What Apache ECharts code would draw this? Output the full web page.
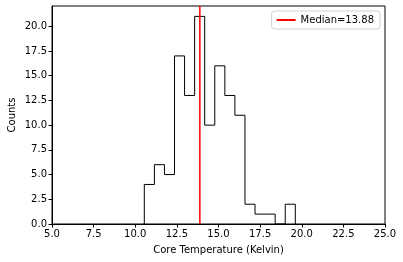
<!DOCTYPE html>
<html><head><meta charset="utf-8">
<script src="https://cdn.jsdelivr.net/npm/echarts@6/dist/echarts.min.js"></script>
<style>html,body{margin:0;padding:0;background:#fff}#c{width:403px;height:262px}</style>
</head><body><div id="c"></div>
<script>
const binEdges = [10.544,11.149,11.753,12.358,12.962,13.567,14.171,14.776,15.381,15.985,16.590,17.194,17.799,18.403,19.008,19.613];
const counts = [4,6,5,17,13,21,10,16,13,11,2,1,1,0,2];
const median = 13.88;
const xTicks = [5,7.5,10,12.5,15,17.5,20,22.5,25];
const yTicks = [0,2.5,5,7.5,10,12.5,15,17.5,20];

const stepPts = [[binEdges[0],0]];
for (let i=0;i<counts.length;i++){ stepPts.push([binEdges[i],counts[i]]); stepPts.push([binEdges[i+1],counts[i]]); }
stepPts.push([binEdges[binEdges.length-1],0]);

const yMax = Math.max(...counts)*1.05;
const font = 'DejaVu Sans';
const chart = echarts.init(document.getElementById('c'), null, {renderer:'canvas'});
chart.setOption({
  animation:false,
  textStyle:{fontFamily:font},
  grid:{left:52,right:18,top:6,bottom:38,show:true,borderColor:'#000',borderWidth:1,backgroundColor:'transparent',containLabel:false,outerBoundsMode:'none'},
  legend:{
    right:23,top:11,orient:'vertical',
    data:[{name:'Median=13.88',icon:'rect'}],
    itemWidth:19,itemHeight:2,itemGap:4,
    borderColor:'#d0d0d0',borderWidth:1,borderRadius:3,padding:[4,6,4,5],
    backgroundColor:'#fff',
    textStyle:{fontFamily:font,fontSize:10,color:'#000'}
  },
  xAxis:{type:'value',min:5,max:25,interval:2.5,
    name:'Core Temperature (Kelvin)',nameLocation:'middle',nameGap:21,nameMoveOverlap:false,
    nameTextStyle:{fontFamily:font,fontSize:10,color:'#000'},
    axisLine:{show:true,onZero:false,lineStyle:{color:'#000',width:1}},
    axisTick:{show:true,length:3.5,lineStyle:{color:'#000'},customValues:xTicks},
    axisLabel:{fontFamily:font,fontSize:10,color:'#000',margin:5,customValues:xTicks,formatter:v=>v.toFixed(1)},
    splitLine:{show:false}},
  yAxis:{type:'value',min:0,max:yMax,
    name:'Counts',nameLocation:'middle',nameGap:35,nameRotate:90,nameMoveOverlap:false,
    nameTextStyle:{fontFamily:font,fontSize:10,color:'#000'},
    axisLine:{show:true,lineStyle:{color:'#000',width:1}},
    axisTick:{show:true,length:3.5,lineStyle:{color:'#000'},customValues:yTicks},
    axisLabel:{fontFamily:font,fontSize:10,color:'#000',margin:5,customValues:yTicks,formatter:v=>v.toFixed(1)},
    splitLine:{show:false}},
  series:[
    {type:'line',name:'hist',data:stepPts,showSymbol:false,symbol:'none',
     lineStyle:{color:'#000',width:1},itemStyle:{color:'#000'},z:2},
    {type:'line',name:'Median=13.88',data:[[median,0],[median,yMax]],showSymbol:false,symbol:'none',
     lineStyle:{color:'#ff0000',width:1.5},itemStyle:{color:'#ff0000'},z:3}
  ]
});
</script></body></html>
